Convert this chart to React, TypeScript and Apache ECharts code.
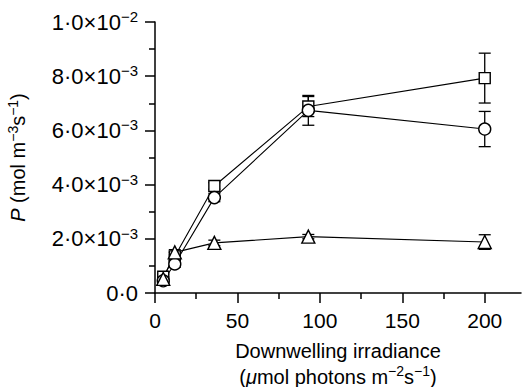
import React, { useEffect, useRef } from "react";
import * as echarts from "echarts";

const irradiance = [5, 12, 36, 93, 200];
const squareMean = [0.6e-3, 1.35e-3, 3.95e-3, 6.88e-3, 7.93e-3];
const squareErr = [0.1e-3, 0.15e-3, 0.12e-3, 0.37e-3, 0.92e-3];
const circleMean = [0.45e-3, 1.07e-3, 3.52e-3, 6.74e-3, 6.05e-3];
const circleErr = [0.1e-3, 0.12e-3, 0.15e-3, 0.55e-3, 0.65e-3];
const triangleMean = [0.52e-3, 1.5e-3, 1.85e-3, 2.08e-3, 1.88e-3];
const triangleErr = [0.08e-3, 0.1e-3, 0.1e-3, 0.08e-3, 0.27e-3];
const xMajorTicks = [0, 50, 100, 150, 200];
const xMinorTicks = [25, 75, 125, 175];

const FONT = "Liberation Sans, Arial, Helvetica, sans-serif";

function yFmt(v: number): string {
  if (Math.abs(v) < 1e-12) return "{b|0·0}";
  const exp = Math.floor(Math.log10(v) + 1e-9);
  const m = v / Math.pow(10, exp);
  return `{b|${m.toFixed(1).replace(".", "·")}×10}{t|−${-exp}}`;
}

const rich = {
  a: { fontSize: 20, fontFamily: FONT, color: "#000", lineHeight: 24 },
  i: { fontSize: 20, fontFamily: FONT, color: "#000", lineHeight: 24, fontStyle: "italic" },
  s: { fontSize: 14, fontFamily: FONT, color: "#000", lineHeight: 16, verticalAlign: "top" },
  b: { fontSize: 22, fontFamily: FONT, color: "#000", lineHeight: 26 },
  t: { fontSize: 15, fontFamily: FONT, color: "#000", lineHeight: 17, verticalAlign: "top" },
};

const richX = {
  a: { fontSize: 20, fontFamily: FONT, color: "#000", lineHeight: 26 },
  i: { fontSize: 20, fontFamily: FONT, color: "#000", lineHeight: 26, fontStyle: "italic" },
  s: { fontSize: 14, fontFamily: FONT, color: "#000", lineHeight: 18, verticalAlign: "top" },
};

function errData(means: number[], errs: number[]) {
  return irradiance.map((x, i) => [x, means[i] - errs[i], means[i] + errs[i]]);
}

function errSeries(means: number[], errs: number[]) {
  return {
    type: "custom",
    z: 1,
    silent: true,
    data: errData(means, errs),
    renderItem: (params: any, api: any) => {
      const x = api.value(0);
      const lo = api.coord([x, api.value(1)]);
      const hi = api.coord([x, api.value(2)]);
      const w = 6;
      const st = { stroke: "#000", lineWidth: 1.3, fill: "none" };
      return {
        type: "group",
        children: [
          { type: "line", shape: { x1: lo[0], y1: lo[1], x2: hi[0], y2: hi[1] }, style: st },
          { type: "line", shape: { x1: lo[0] - w, y1: lo[1], x2: lo[0] + w, y2: lo[1] }, style: st },
          { type: "line", shape: { x1: hi[0] - w, y1: hi[1], x2: hi[0] + w, y2: hi[1] }, style: st },
        ],
      };
    },
  };
}

function lineSeries(means: number[], symbol: string, size: number) {
  return {
    type: "line",
    z: 3,
    data: irradiance.map((x, i) => [x, means[i]]),
    symbol,
    symbolSize: size,
    showAllSymbol: true,
    lineStyle: { color: "#000", width: 1.1 },
    itemStyle: { color: "#fff", borderColor: "#000", borderWidth: 1.4 },
    emphasis: { disabled: true },
  };
}

export default function App() {
  const ref = useRef<HTMLDivElement>(null);
  useEffect(() => {
    document.body.style.margin = "0";
    const chart = echarts.init(ref.current!, null, { renderer: "svg" });
    chart.setOption({
      animation: false,
      backgroundColor: "#fff",
      grid: { left: 155, top: 22, width: 366, height: 271, outerBoundsMode: "none", containLabel: false },
      xAxis: [
        {
          type: "value",
          min: 0,
          max: 222,
          position: "bottom",
          splitLine: { show: false },
          axisLine: { show: true, onZero: false, lineStyle: { color: "#000", width: 1.5 } },
          axisTick: { show: true, length: 10, customValues: xMajorTicks, lineStyle: { color: "#000", width: 1.5 } },
          axisLabel: { customValues: xMajorTicks, margin: 17, fontSize: 21, fontFamily: FONT, color: "#000" },
          name: "{a|Downwelling irradiance}\n{a|(}{i|μ}{a|mol photons m}{s|−2}{a|s}{s|−1}{a|)}",
          nameLocation: "middle",
          nameGap: 45,
          nameMoveOverlap: false,
          nameTextStyle: { rich: richX, lineHeight: 26, fontFamily: FONT, color: "#000" },
        },
        {
          type: "value",
          min: 0,
          max: 222,
          position: "bottom",
          offset: 0,
          splitLine: { show: false },
          axisLine: { show: false },
          axisTick: { show: true, length: 6, customValues: xMinorTicks, lineStyle: { color: "#000", width: 1.5 } },
          axisLabel: { show: false },
        },
      ],
      yAxis: {
        type: "value",
        min: 0,
        max: 0.01,
        interval: 0.002,
        splitLine: { show: false },
        axisLine: { show: true, onZero: false, lineStyle: { color: "#000", width: 1.5 } },
        axisTick: { show: true, length: 10, lineStyle: { color: "#000", width: 1.5 } },
        minorTick: { show: true, splitNumber: 2, length: 6, lineStyle: { color: "#000", width: 1.5 } },
        axisLabel: { margin: 17, formatter: yFmt, rich },
        name: "{i|P}{a| (mol m}{s|−3}{a|s}{s|−1}{a|)}",
        nameLocation: "middle",
        nameRotate: 90,
        nameGap: 125,
        nameMoveOverlap: false,
        nameTextStyle: { rich, fontFamily: FONT, color: "#000" },
      },
      series: [
        errSeries(squareMean, squareErr),
        errSeries(circleMean, circleErr),
        errSeries(triangleMean, triangleErr),
        lineSeries(squareMean, "rect", 11),
        lineSeries(circleMean, "circle", 12),
        lineSeries(triangleMean, "triangle", 13),
      ],
    });
    return () => chart.dispose();
  }, []);
  return <div ref={ref} style={{ width: 524, height: 387 }} />;
}
